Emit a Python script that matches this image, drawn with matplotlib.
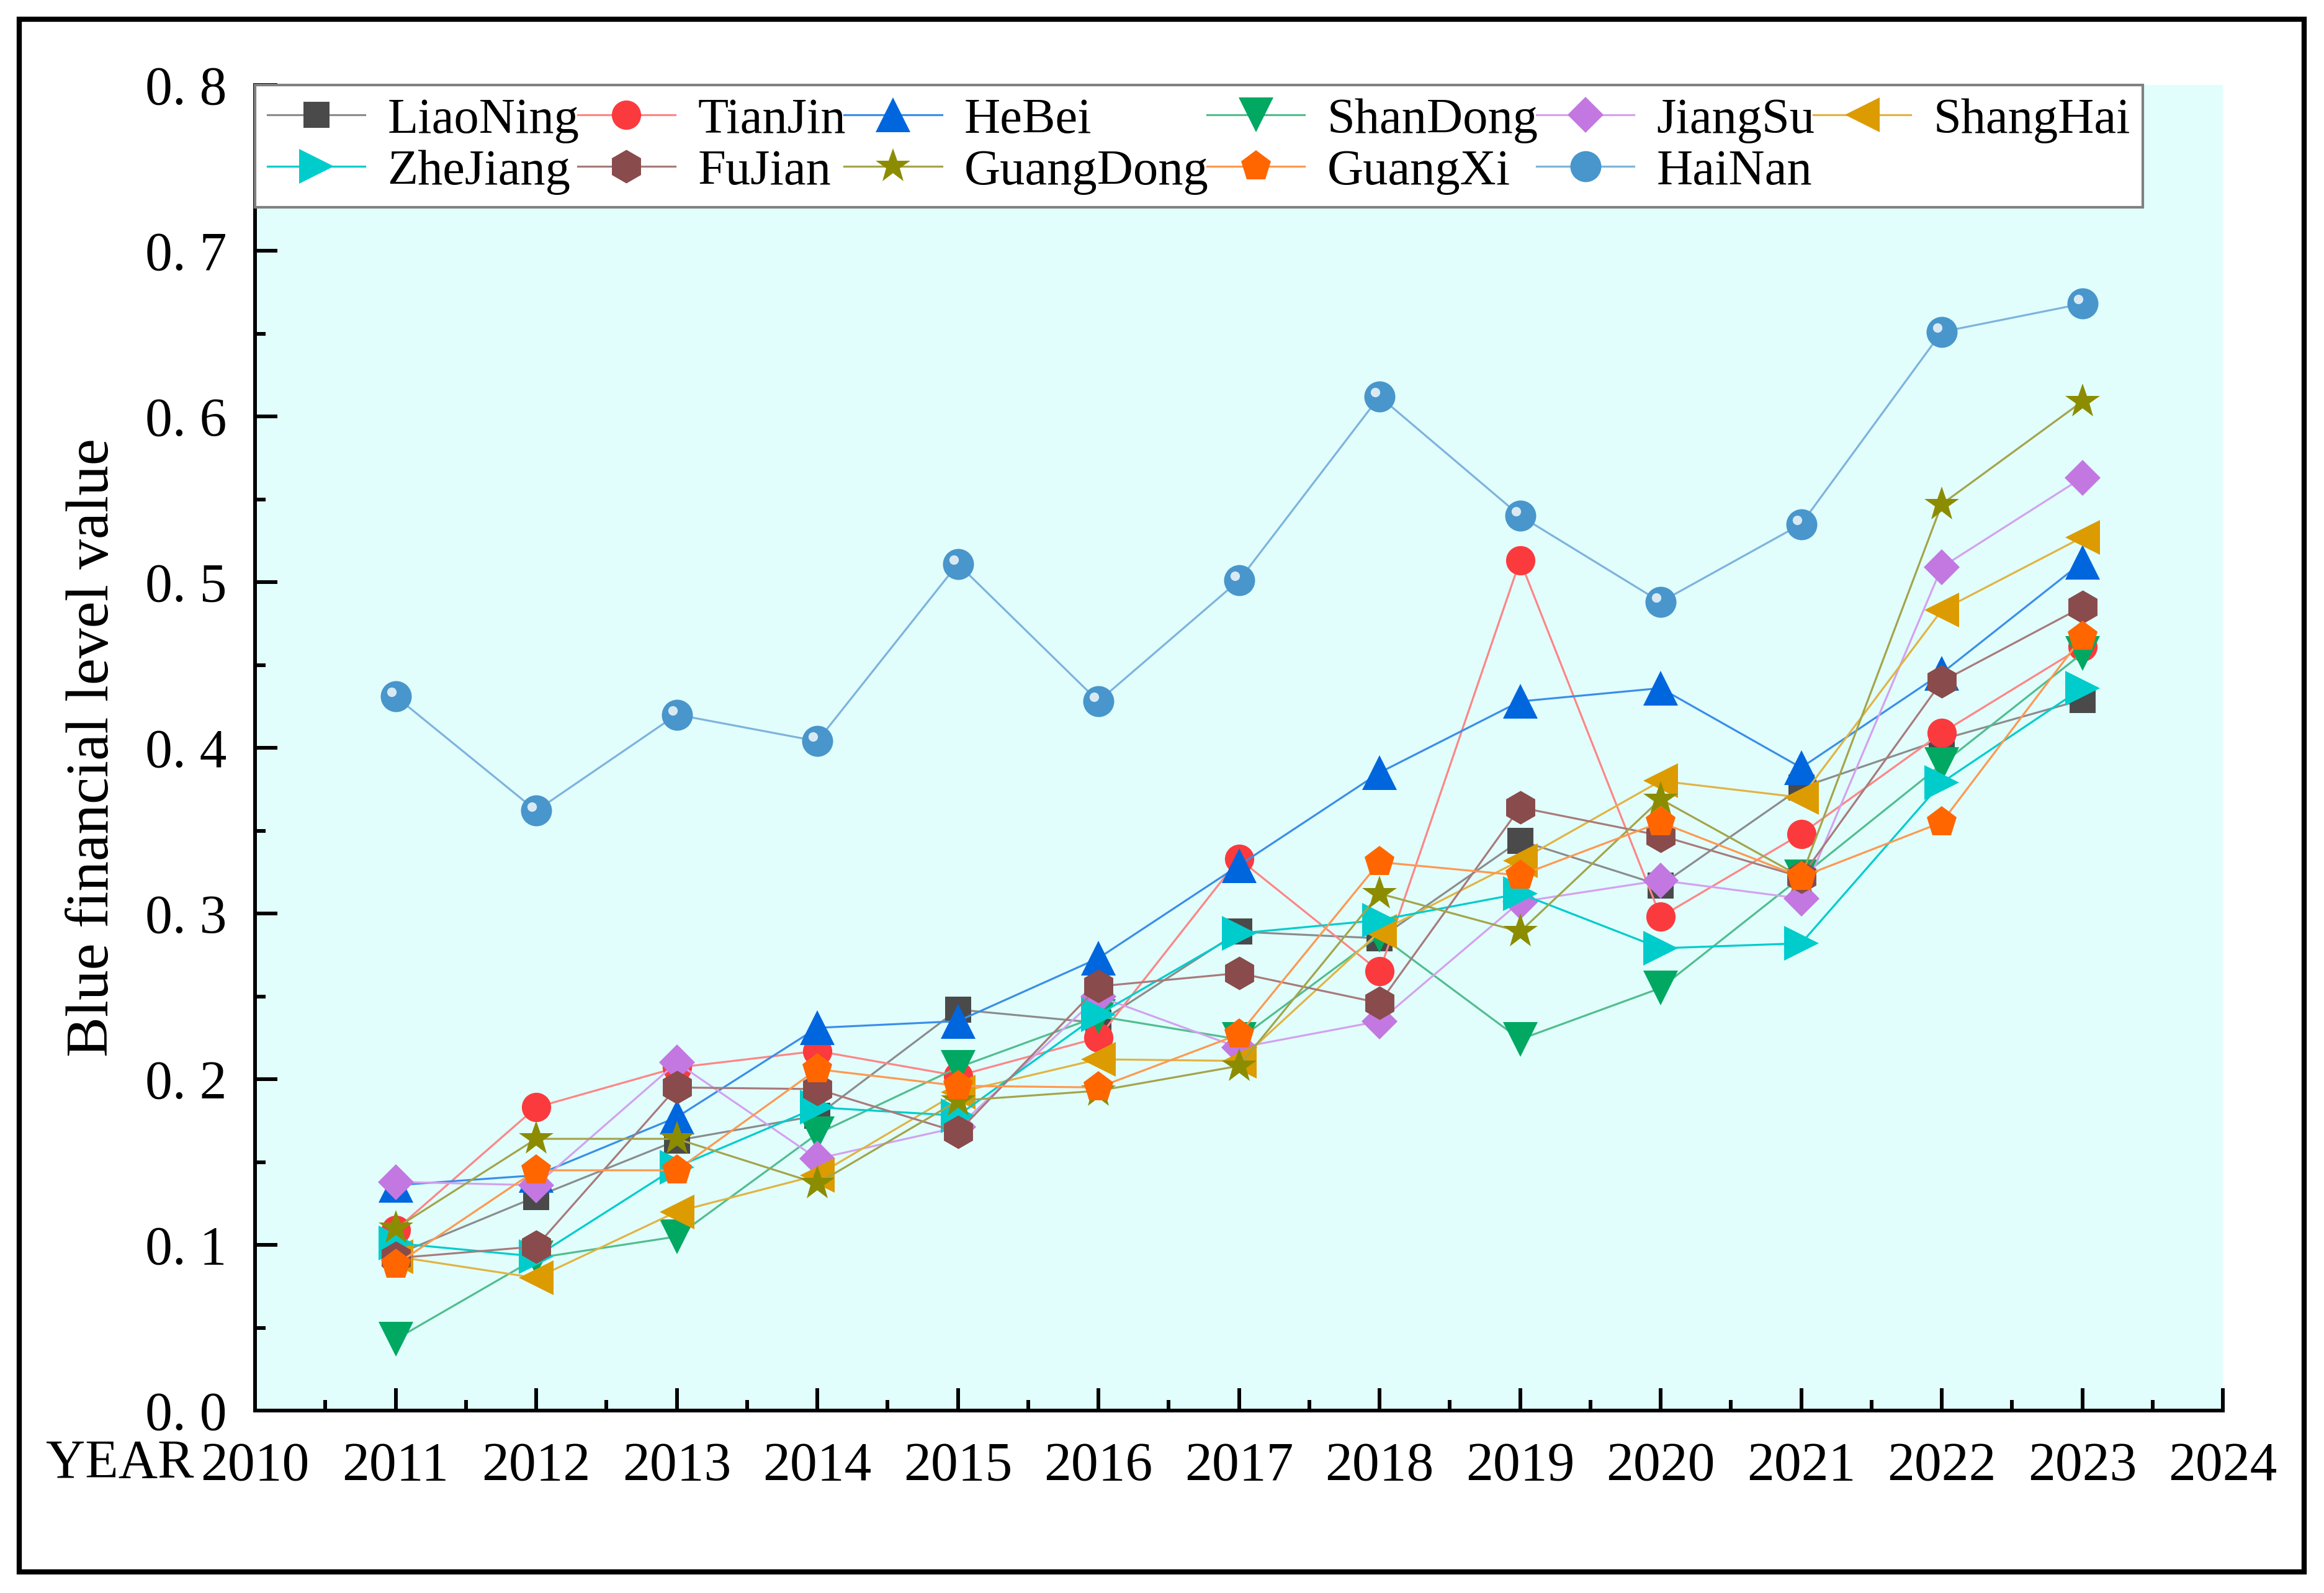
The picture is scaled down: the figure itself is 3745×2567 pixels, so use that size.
import matplotlib
matplotlib.use("Agg")
import matplotlib.pyplot as plt
from matplotlib.patches import Rectangle
from matplotlib.ticker import MultipleLocator, FixedLocator, FixedFormatter
from matplotlib.transforms import ScaledTranslation

plt.rcParams['font.family'] = ['Liberation Serif', 'DejaVu Serif']

# ---------------- data ----------------
years = [2011, 2012, 2013, 2014, 2015, 2016, 2017, 2018, 2019, 2020, 2021, 2022, 2023]

provinces = ["LiaoNing", "TianJin", "HeBei", "ShanDong", "JiangSu", "ShangHai",
             "ZheJiang", "FuJian", "GuangDong", "GuangXi", "HaiNan"]

liaoning  = [0.094, 0.129, 0.163, 0.178, 0.242, 0.234, 0.289, 0.285, 0.344, 0.317, 0.376, 0.405, 0.429]
tianjin   = [0.109, 0.183, 0.207, 0.217, 0.202, 0.225, 0.333, 0.265, 0.513, 0.298, 0.348, 0.409, 0.461]
hebei     = [0.136, 0.142, 0.177, 0.231, 0.235, 0.273, 0.329, 0.385, 0.428, 0.436, 0.388, 0.445, 0.512]
shandong  = [0.043, 0.092, 0.105, 0.167, 0.207, 0.238, 0.224, 0.287, 0.224, 0.255, 0.322, 0.390, 0.457]
jiangsu   = [0.138, 0.136, 0.210, 0.152, 0.171, 0.250, 0.219, 0.235, 0.307, 0.320, 0.309, 0.509, 0.563]
shanghai  = [0.093, 0.080, 0.120, 0.142, 0.192, 0.212, 0.211, 0.289, 0.332, 0.380, 0.370, 0.483, 0.527]
zhejiang  = [0.101, 0.093, 0.147, 0.183, 0.178, 0.239, 0.288, 0.296, 0.312, 0.279, 0.282, 0.379, 0.436]
fujian    = [0.092, 0.099, 0.195, 0.194, 0.168, 0.256, 0.264, 0.246, 0.364, 0.347, 0.322, 0.440, 0.485]
guangdong = [0.110, 0.164, 0.164, 0.137, 0.187, 0.193, 0.208, 0.312, 0.289, 0.369, 0.322, 0.547, 0.609]
guangxi   = [0.088, 0.145, 0.145, 0.206, 0.196, 0.195, 0.227, 0.331, 0.323, 0.355, 0.322, 0.355, 0.467]
hainan    = [0.431, 0.362, 0.420, 0.404, 0.511, 0.428, 0.501, 0.612, 0.540, 0.488, 0.535, 0.651, 0.668]

series_values = [liaoning, tianjin, hebei, shandong, jiangsu, shanghai,
                 zhejiang, fujian, guangdong, guangxi, hainan]

xtick_values = list(range(2010, 2025))
xtick_labels = [str(v) for v in xtick_values]
ytick_values = [0.0, 0.1, 0.2, 0.3, 0.4, 0.5, 0.6, 0.7, 0.8]
ytick_labels = ["0. 0", "0. 1", "0. 2", "0. 3", "0. 4", "0. 5", "0. 6", "0. 7", "0. 8"]
y_title = "Blue financial level value"
x_title = "YEAR"

# ---------------- styles ----------------
styles = {
    "LiaoNing":  dict(marker='s', ms=30, mc='#4a4a4a', lc='#8c8c8c'),
    "TianJin":   dict(marker='o', ms=34, mc='#fb3a3e', lc='#ff8585'),
    "HeBei":     dict(marker='^', ms=40, mc='#0066dd', lc='#3b8ee8'),
    "ShanDong":  dict(marker='v', ms=40, mc='#00a862', lc='#52bd8e'),
    "JiangSu":   dict(marker='D', ms=30, mc='#c278e0', lc='#d3a2ee'),
    "ShangHai":  dict(marker='<', ms=40, mc='#dc9b00', lc='#e1b443'),
    "ZheJiang":  dict(marker='>', ms=40, mc='#00cccc', lc='#00cccc'),
    "FuJian":    dict(marker='h', ms=39, mc='#894b4b', lc='#a97a7a'),
    "GuangDong": dict(marker='*', ms=42, mc='#8c8c00', lc='#a4a44a'),
    "GuangXi":   dict(marker='p', ms=37, mc='#ff6600', lc='#ff9850'),
    "HaiNan":    dict(marker='o', ms=36, mc='#4896cb', lc='#7eb3dc'),
}

W, H, DPI = 3745, 2567, 100
fig = plt.figure(figsize=(W / DPI, H / DPI), dpi=DPI, facecolor='white')
ax = fig.add_axes([0.10975, 0.11453, 0.95648 - 0.10975, 0.94663 - 0.11453])
ax.set_facecolor('#e1fefd')

handles = {}
for name, vals in zip(provinces, series_values):
    st = styles[name]
    ln, = ax.plot(years, vals, color=st['lc'], lw=2.3, marker=st['marker'],
                  ms=st['ms'], mfc=st['mc'], mec=st['mc'], mew=0, label=name,
                  clip_on=False)
    handles[name] = ln

# sphere highlight for HaiNan
hl_tr = ax.transData + ScaledTranslation(-5 / 72, 5 / 72, fig.dpi_scale_trans)
ax.plot(years, hainan, linestyle='none', marker='o', ms=11, mfc='white',
        mec='none', alpha=0.8, transform=hl_tr, clip_on=False)

ax.set_xlim(2010, 2024)
ax.set_ylim(0, 0.8)
ax.xaxis.set_major_locator(FixedLocator(xtick_values))
ax.xaxis.set_major_formatter(FixedFormatter(xtick_labels))
ax.xaxis.set_minor_locator(MultipleLocator(0.5))
ax.yaxis.set_major_locator(FixedLocator(ytick_values))
ax.yaxis.set_major_formatter(FixedFormatter(ytick_labels))
ax.yaxis.set_minor_locator(MultipleLocator(0.05))

for s in ['top', 'right']:
    ax.spines[s].set_visible(False)
for s in ['left', 'bottom']:
    ax.spines[s].set_linewidth(4.3)
    ax.spines[s].set_color('black')

ax.tick_params(axis='both', which='major', direction='in', length=26, width=4.3,
               labelsize=63, color='black')
ax.tick_params(axis='both', which='minor', direction='in', length=12, width=4.3,
               color='black')
ax.tick_params(axis='x', which='major', pad=36)
ax.tick_params(axis='y', which='major', pad=33)

ax.set_ylabel(y_title, fontsize=70, va='center')
ax.yaxis.set_label_coords(-0.082, 0.5)
ax.set_xlabel(x_title, fontsize=63, ha='right', va='top')
ax.xaxis.set_label_coords(-0.031, -0.0215)

order = ["LiaoNing", "ZheJiang", "TianJin", "FuJian", "HeBei", "GuangDong",
         "ShanDong", "GuangXi", "JiangSu", "HaiNan", "ShangHai"]
leg = ax.legend([handles[n] for n in order], order, loc='upper left',
                bbox_to_anchor=(0.0, 1.0, 0.9593, 0.0), mode='expand', ncol=6,
                borderaxespad=0.0, fontsize=58, numpoints=1, handlelength=1.95,
                handletextpad=0.45, columnspacing=0.5, labelspacing=0.12,
                borderpad=0.25, fancybox=False, framealpha=1.0,
                edgecolor='#808080', facecolor='white')
leg.get_frame().set_linewidth(3)

# outer frame
fig.patches.append(Rectangle((0.00828, 0.01325), 0.99146 - 0.00828, 0.98792 - 0.01325,
                             transform=fig.transFigure, fill=False, lw=6,
                             edgecolor='black'))

fig.savefig('out.png', dpi=DPI, facecolor='white')
